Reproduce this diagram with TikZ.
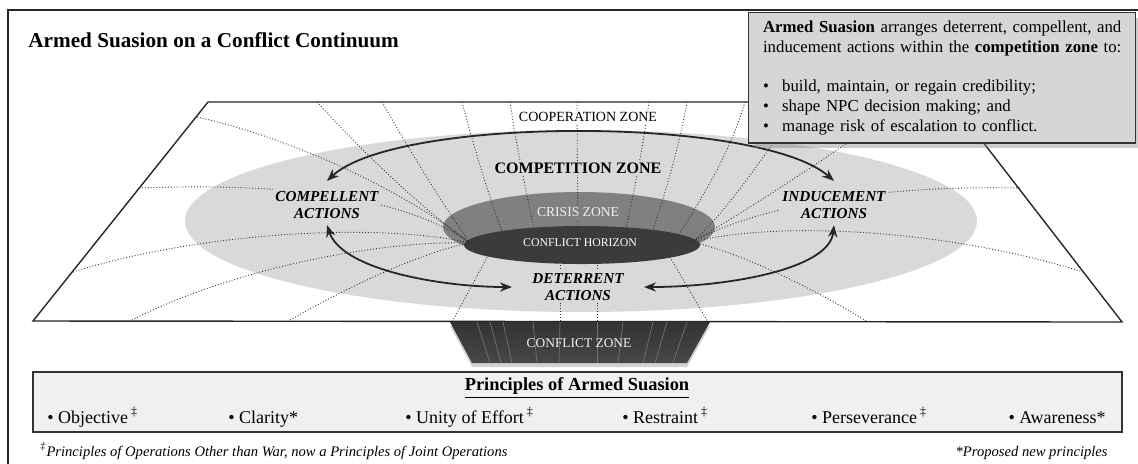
\documentclass[tikz,border=0pt]{standalone}
\usepackage{fontspec}
\setmainfont{Liberation Serif}
\usetikzlibrary{arrows.meta,shadows}

\definecolor{compgray}{gray}{0.85}
\definecolor{crisisgray}{gray}{0.50}
\definecolor{horizgray}{gray}{0.23}
\definecolor{notegray}{gray}{0.84}
\definecolor{princgray}{gray}{0.94}

\pgfdeclareradialshading{crisisshade}{\pgfpoint{0bp}{0bp}}{%
  color(0bp)=(crisisgray); color(33bp)=(crisisgray); color(50bp)=(compgray)}
\pgfdeclareradialshading{horizshade}{\pgfpoint{0bp}{0bp}}{%
  color(0bp)=(horizgray); color(32bp)=(horizgray); color(50bp)=(crisisgray)}

\tikzset{
  gridline/.style={densely dotted, line width=0.45pt, black!80},
  actarrow/.style={line width=0.9pt, black!85,
    {Stealth[length=6pt,width=4.6pt]}-{Stealth[length=6pt,width=4.6pt]}},
  actlabel/.style={font=\fontsize{7.6}{8.6}\selectfont\bfseries\itshape,
    align=center, fill=compgray, inner sep=1pt},
  zonelabel/.style={font=\fontsize{7}{8}\selectfont, inner sep=1pt},
  notebox/.style={draw=black!80, line width=0.7pt, fill=notegray,
    text width=186pt, inner xsep=3.75pt, inner ysep=4pt,
    font=\fontsize{8.4}{10}\selectfont,
    drop shadow={shadow xshift=2.5pt, shadow yshift=-2.5pt, opacity=0.4}},
  principle/.style={font=\fontsize{9}{10}\selectfont, anchor=base west, inner sep=0pt},
}
\newcommand{\notebullet}{\hspace*{3.5pt}\makebox[9.5pt][l]{\textbullet}}

\begin{document}
\begin{tikzpicture}[x=0.5pt, y=-0.5pt]
  \useasboundingbox (0,0) rectangle (1138,463);
  \fill[white] (0,0) rectangle (1138,463);
  \clip (0,0) rectangle (1138,463);
  \draw[line width=0.8pt, black!85] (8,480) -- (8,10) -- (1150,10);

  \node[anchor=base west, inner sep=0pt, font=\fontsize{10.6}{12}\selectfont\bfseries]
    (title) at (28,47) {Armed Suasion on a Conflict Continuum};

  % the plane and its zones
  \draw[line width=0.7pt, black!85] (33,321) -- (208,102) -- (952,102) -- (1122,322) -- cycle;
  \fill[compgray] (581,221) ellipse [x radius=396, y radius=91];
  \shade[shading=crisisshade] (579,227) ellipse [x radius=136, y radius=35];
  \shade[shading=horizshade] (582,245) ellipse [x radius=118, y radius=19];

  \coordinate (hl) at (470,243);
  \coordinate (hr) at (692,242);

  % grid lines, left side
  \draw[gridline] (197,117) .. controls (300,140) and (410,195) .. (hl);
  \draw[gridline] (317,102) .. controls (370,160) and (430,215) .. (hl);
  \draw[gridline] (382,102) .. controls (415,160) and (450,215) .. (hl);
  \draw[gridline] (139,188) .. controls (300,182) and (410,200) .. (hl);
  \draw[gridline] (73,272) .. controls (200,232) and (380,222) .. (hl);
  \draw[gridline] (132,320) .. controls (240,265) and (390,240) .. (hl);
  \draw[gridline] (290,320) .. controls (360,280) and (430,250) .. (hl);
  % grid lines, right side
  \draw[gridline] (1020,188) .. controls (880,185) and (760,205) .. (hr);
  \draw[gridline] (1083,272) .. controls (950,230) and (780,220) .. (hr);
  \draw[gridline] (866,321) .. controls (800,280) and (730,250) .. (hr);
  \draw[gridline] (800,102) .. controls (770,150) and (720,220) .. (hr);
  \draw[gridline] (905,102) .. controls (840,150) and (740,215) .. (hr);
  % grid lines, top and bottom
  \draw[gridline] (462,102) .. controls (480,170) and (500,230) .. (512,256);
  \draw[gridline] (510,102) .. controls (520,170) and (535,230) .. (540,258);
  \draw[gridline] (577,102) -- (578,259);
  \draw[gridline] (649,102) .. controls (640,170) and (625,230) .. (620,258);
  \draw[gridline] (687,102) .. controls (675,170) and (652,230) .. (645,256);
  \draw[gridline] (745,102) .. controls (725,170) and (680,230) .. (668,252);
  \draw[gridline] (490,252) -- (452,322);
  \draw[gridline] (560,259) -- (560,322);
  \draw[gridline] (597,259) -- (597,322);
  \draw[gridline] (667,252) -- (708,322);

  % conflict zone below the plane
  \shade[top color=black!80, bottom color=black!72,
    drop shadow={shadow xshift=0pt, shadow yshift=-2pt, opacity=0.35}]
    (450,322) -- (710,322) -- (687,363) -- (472,363) -- cycle;
  \foreach \t/\b in {477/490, 490/501, 503/512, 533/537, 560/559,
                     597/597, 623/618, 653/643, 667/655, 687/673}
    \draw[black!55, line width=0.35pt] (\t,322) -- (\b,363);

  \node[zonelabel, fill=white, inner sep=0.5pt] (coop) at (588,117) {COOPERATION ZONE};
  \node[zonelabel, fill=compgray, font=\fontsize{8}{9}\selectfont\bfseries] (comp) at (578,168) {COMPETITION ZONE};
  \node[zonelabel, fill=crisisgray, text=gray!12, font=\fontsize{6.8}{8}\selectfont] (crisis) at (578,212) {CRISIS ZONE};
  \node[zonelabel, text=white, font=\fontsize{5.9}{7}\selectfont] (horizon) at (580,243) {CONFLICT HORIZON};
  \node[zonelabel, text=gray!10, font=\fontsize{6.7}{8}\selectfont] (conflict) at (579,343) {CONFLICT ZONE};

  \node[actlabel] (compel) at (327,205) {COMPELLENT\\ACTIONS};
  \node[actlabel] (induce) at (834,205) {INDUCEMENT\\ACTIONS};
  \node[actlabel] (deter) at (578,287) {DETERRENT\\ACTIONS};

  \draw[actarrow] ([yshift=4pt]compel.north) .. controls +(70,-65) and +(-75,-65) .. ([yshift=4pt]induce.north);
  \draw[actarrow] ([yshift=-2pt]compel.south) .. controls +(15,45) and +(-70,0) .. ([xshift=-9pt]deter.west);
  \draw[actarrow] ([xshift=9pt]deter.east) .. controls +(80,0) and +(-5,45) .. ([yshift=-2pt]induce.south);

  % note box
  \node[notebox, anchor=north west] (note) at (748,12) {%
    \makebox[\linewidth][c]{\textbf{Armed Suasion} arranges deterrent, compellent, and}\\
    \makebox[\linewidth][c]{inducement actions within the \textbf{competition zone} to:}\par
    \vspace{9.5pt}
    \notebullet build, maintain, or regain credibility;\\
    \notebullet shape NPC decision making; and\\
    \notebullet manage risk of escalation to conflict.\par};

  % principles
  \draw[black!80, line width=0.7pt, fill=princgray] (33,372) rectangle (1122,432);
  \node[font=\fontsize{9.2}{10}\selectfont\bfseries] (princ) at (577,388) {\underline{Principles of Armed Suasion}};
  \node[principle] (objective) at (47,423) {\textbullet\ Objective\,\textsuperscript{‡}};
  \node[principle] (clarity) at (228,423) {\textbullet\ Clarity*};
  \node[principle] (unity) at (405,423) {\textbullet\ Unity of Effort\,\textsuperscript{‡}};
  \node[principle] (restraint) at (622,423) {\textbullet\ Restraint\,\textsuperscript{‡}};
  \node[principle] (persev) at (811,423) {\textbullet\ Perseverance\,\textsuperscript{‡}};
  \node[principle, anchor=base east] (aware) at (1106,423) {\textbullet\ Awareness*};

  \node[anchor=base west, inner sep=0pt, font=\fontsize{7.3}{8}\selectfont\itshape]
    (note1) at (40,456) {\textsuperscript{‡}Principles of Operations Other than War, now a Principles of Joint Operations};
  \node[anchor=base east, inner sep=0pt, font=\fontsize{7.3}{8}\selectfont\itshape]
    (note2) at (1108,456) {*Proposed new principles};
\end{tikzpicture}
\end{document}
